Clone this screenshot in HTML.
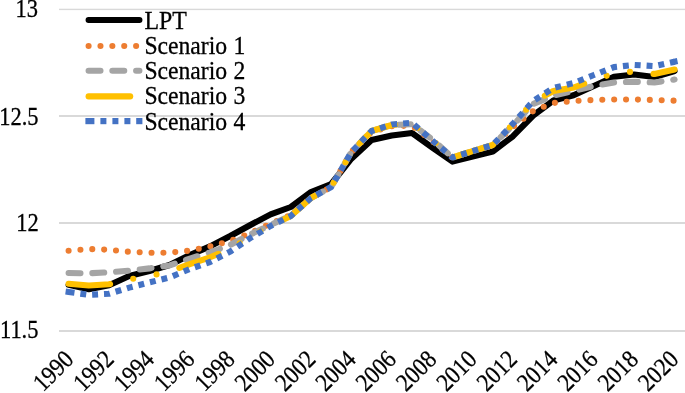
<!DOCTYPE html>
<html><head><meta charset="utf-8"><title>Chart</title>
<style>
html,body{margin:0;padding:0;background:#fff;}
body{width:685px;height:393px;overflow:hidden;position:relative;font-family:"Liberation Serif",serif;}
svg{position:absolute;left:0;top:0;display:block;}
text{font-family:"Liberation Serif",serif;fill:#000;stroke:#000;stroke-width:0.3px;}
</style></head><body>
<svg width="685" height="393" viewBox="0 0 685 393">
<rect width="685" height="393" fill="#fff"/>
<g fill="#D9D9D9">
<rect x="59" y="8.7" width="626" height="1.4"/>
<rect x="59" y="115" width="626" height="2"/>
<rect x="59" y="222" width="626" height="2"/>
<rect x="59" y="330" width="626" height="2"/>
</g>

<g fill="none" stroke-width="6.1" stroke-linejoin="round">
<path d="M68.6,284.8 L88.8,289.2 L109.0,285.3 L129.2,276.0 L149.4,271.0 L169.6,265.0 L189.8,255.0 L210.0,246.4 L230.2,236.0 L250.4,225.0 L270.6,214.4 L290.8,207.0 L311.0,192.0 L331.2,184.0 L351.4,158.7 L371.6,140.0 L391.8,135.5 L412.0,133.0 L432.2,147.5 L452.4,161.6 L472.6,156.5 L492.8,151.5 L513.0,136.2 L533.2,115.5 L553.4,100.5 L573.6,95.3 L593.8,86.0 L614.0,76.7 L634.2,74.5 L654.4,77.0 L674.6,71.0" stroke="#000000" stroke-linecap="round"/>
<path d="M68.6,250.8 L88.8,249.0 L109.0,249.8 L129.2,251.8 L149.4,252.8 L169.6,252.7 L189.8,250.6 L210.0,246.4 L230.2,241.0 L250.4,233.0 L270.6,223.6 L290.8,215.0 L311.0,198.0 L331.2,187.0 L351.4,152.0 L371.6,132.0 L391.8,126.3 L412.0,125.5 L432.2,141.0 L452.4,157.5 L472.6,151.2 L492.8,145.0 L513.0,127.0 L533.2,111.0 L553.4,103.0 L573.6,101.0 L593.8,100.0 L614.0,99.5 L634.2,99.5 L654.4,100.0 L674.6,100.7" stroke="#ED7D31" stroke-linecap="round" stroke-dasharray="0.00 11.88"/>
<path d="M68.6,273.0 L88.8,273.3 L109.0,272.3 L129.2,270.6 L149.4,268.4 L169.6,265.4 L189.8,258.6 L210.0,252.4 L230.2,245.0 L250.4,234.4 L270.6,225.0 L290.8,215.5 L311.0,198.0 L331.2,187.0 L351.4,152.0 L371.6,131.0 L391.8,125.0 L412.0,124.2 L432.2,139.3 L452.4,157.5 L472.6,151.2 L492.8,145.0 L513.0,125.0 L533.2,104.0 L553.4,95.5 L573.6,91.0 L593.8,86.0 L614.0,82.5 L634.2,81.7 L654.4,82.5 L674.6,79.5" stroke="#A5A5A5" stroke-linecap="round" stroke-dasharray="11.88 11.88"/>
<path d="M68.6,283.7 L88.8,285.5 L109.0,284.3 L129.2,279.5 L149.4,276.0 L169.6,271.5 L189.8,264.2 L210.0,257.3 L230.2,249.0 L250.4,237.0 L270.6,226.0 L290.8,216.0 L311.0,198.0 L331.2,187.0 L351.4,152.0 L371.6,131.0 L391.8,125.0 L412.0,123.7 L432.2,140.0 L452.4,157.5 L472.6,151.2 L492.8,145.0 L513.0,124.0 L533.2,102.0 L553.4,91.0 L573.6,87.5 L593.8,80.0 L614.0,73.5 L634.2,71.5 L654.4,74.0 L674.6,69.5" stroke="#FFC000" stroke-linecap="round" stroke-dasharray="41.58 23.76 0.00 23.76 0.00 23.76"/>
<path d="M65.6,291.6 L68.6,292.0 L88.8,294.8 L109.0,293.8 L129.2,287.6 L149.4,282.4 L169.6,277.4 L189.8,269.0 L210.0,262.0 L230.2,251.6 L250.4,238.0 L270.6,226.0 L290.8,216.0 L311.0,198.0 L331.2,187.0 L351.4,152.0 L371.6,131.0 L391.8,124.5 L412.0,122.8 L432.2,140.5 L452.4,157.5 L472.6,151.2 L492.8,145.0 L513.0,123.7 L533.2,101.0 L553.4,88.0 L573.6,83.0 L593.8,75.0 L614.0,67.1 L634.2,64.9 L654.4,66.1 L674.6,61.7" stroke="#4472C4" stroke-dasharray="8.94 5.94 5.94 5.94 5.94 5.94 5.94 5.94 5.94 5.94 5.94 5.94 5.94 5.94 5.94 5.94 5.94 5.94 5.94 5.94 5.94 5.94 5.94 5.94 5.94 5.94 5.94 5.94 5.94 5.94 5.94 5.94 5.94 5.94 5.94 5.94 5.94 5.94 5.94 5.94 5.94 5.94 5.94 5.94 5.94 5.94 5.94 5.94 5.94 5.94 5.94 5.94 5.94 5.94 5.94 5.94 5.94 5.94 5.94 5.94 5.94 5.94 5.94 5.94 5.94 5.94 5.94 5.94 5.94 5.94 5.94 5.94 5.94 5.94 5.94 5.94 5.94 5.94 5.94 5.94 5.94 5.94 5.94 5.94 5.94 5.94 5.94 5.94 5.94 5.94 5.94 5.94 5.94 5.94 5.94 5.94 5.94 5.94 5.94 5.94 5.94 5.94 5.94 5.94 5.94 5.94 5.94 5.94 5.94 5.94 5.94 5.94 5.94 5.94 5.94 5.94 5.94 5.94 5.94 5.94 5.94 5.94 5.94 5.94 5.94 5.94 5.94 5.94 5.94 5.94 5.94 5.94 5.94 5.94 5.94 5.94 5.94 5.94 5.94 5.94 5.94 5.94"/>
<path d="M672.2,62.2 L677.5,61.1" stroke="#4472C4"/>
</g>
<g fill="none" stroke-width="6.1">
<path d="M88.6,20 L139.4,20" stroke="#000000" stroke-linecap="round"/>
<path d="M88.6,46 L139.4,46" stroke="#ED7D31" stroke-linecap="round" stroke-dasharray="0.00 11.88"/>
<path d="M88.6,70.7 L139.4,70.7" stroke="#A5A5A5" stroke-linecap="round" stroke-dasharray="11.88 11.88"/>
<path d="M88.6,96.4 L139.4,96.4" stroke="#FFC000" stroke-linecap="round" stroke-dasharray="41.58 23.76 0.00 23.76 0.00 23.76"/>
</g>
<rect x="85.4" y="118.0" width="9.0" height="6.2" fill="#4472C4"/>
<rect x="100.4" y="118.0" width="6.0" height="6.2" fill="#4472C4"/>
<rect x="112.4" y="118.0" width="6.0" height="6.2" fill="#4472C4"/>
<rect x="124.4" y="118.0" width="6.0" height="6.2" fill="#4472C4"/>
<rect x="136.2" y="118.0" width="6.2" height="6.2" fill="#4472C4"/>
<g font-size="25.1">
<text word-spacing="0.6" transform="translate(144.4,29.1) scale(0.951,1)">LPT</text>
<text word-spacing="0.6" transform="translate(144.4,53.8) scale(0.943,1)">Scenario 1</text>
<text word-spacing="0.6" transform="translate(144.4,78.8) scale(0.943,1)">Scenario 2</text>
<text word-spacing="0.6" transform="translate(144.4,104.3) scale(0.943,1)">Scenario 3</text>
<text word-spacing="0.6" transform="translate(144.4,129.8) scale(0.943,1)">Scenario 4</text>
</g>
<g font-size="25.1" text-anchor="end">
<text transform="translate(37.9,16.5) scale(0.896,1)">13</text>
<text transform="translate(38.5,124.8) scale(0.896,1)">12.5</text>
<text transform="translate(38.7,230.9) scale(0.896,1)">12</text>
<text transform="translate(38.5,338.3) scale(0.896,1)">11.5</text>
</g>
<g font-size="25.1" text-anchor="end">
<text transform="translate(74.9,360.7) rotate(-45) scale(0.899,1)">1990</text>
<text transform="translate(115.2,360.7) rotate(-45) scale(0.899,1)">1992</text>
<text transform="translate(155.6,360.7) rotate(-45) scale(0.899,1)">1994</text>
<text transform="translate(195.9,360.7) rotate(-45) scale(0.899,1)">1996</text>
<text transform="translate(236.3,360.7) rotate(-45) scale(0.899,1)">1998</text>
<text transform="translate(276.6,360.7) rotate(-45) scale(0.899,1)">2000</text>
<text transform="translate(316.9,360.7) rotate(-45) scale(0.899,1)">2002</text>
<text transform="translate(357.3,360.7) rotate(-45) scale(0.899,1)">2004</text>
<text transform="translate(397.6,360.7) rotate(-45) scale(0.899,1)">2006</text>
<text transform="translate(438.0,360.7) rotate(-45) scale(0.899,1)">2008</text>
<text transform="translate(478.3,360.7) rotate(-45) scale(0.899,1)">2010</text>
<text transform="translate(518.6,360.7) rotate(-45) scale(0.899,1)">2012</text>
<text transform="translate(559.0,360.7) rotate(-45) scale(0.899,1)">2014</text>
<text transform="translate(599.3,360.7) rotate(-45) scale(0.899,1)">2016</text>
<text transform="translate(639.7,360.7) rotate(-45) scale(0.899,1)">2018</text>
<text transform="translate(680.0,360.7) rotate(-45) scale(0.899,1)">2020</text>
</g>
</svg></body></html>
